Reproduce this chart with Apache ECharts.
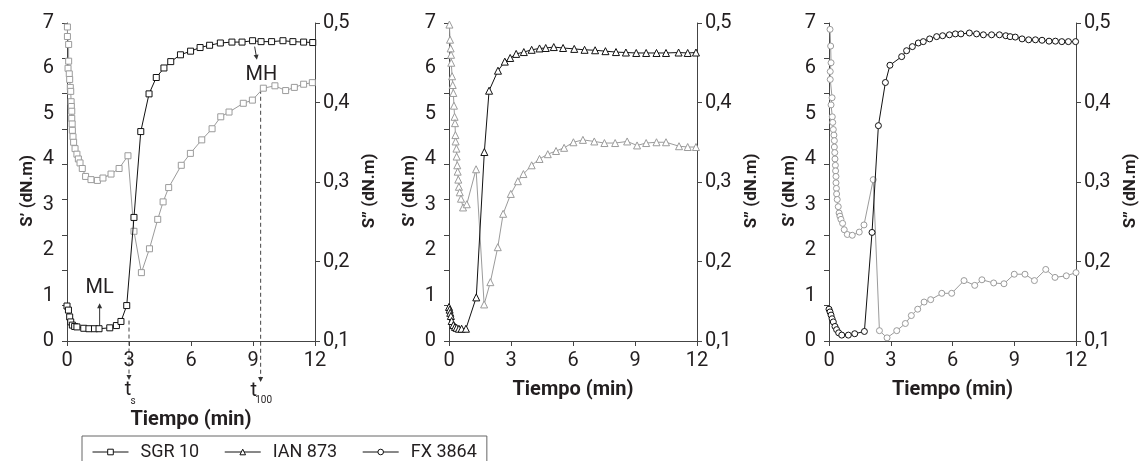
<!DOCTYPE html>
<html>
<head>
<meta charset="utf-8">
<script src="https://cdn.jsdelivr.net/npm/echarts@6/dist/echarts.min.js"></script>
<style>
html,body{margin:0;padding:0;background:#fff;}
#c{width:1145px;height:461px;}
</style>
</head>
<body>
<div id="c"></div>
<script>
// ---------- DATA ----------
const seriesNames = ['SGR 10', 'IAN 873', 'FX 3864'];
const xTicks = [0, 3, 6, 9, 12];
const leftTicks = [0, 1, 2, 3, 4, 5, 6, 7];
const rightTicks = [0.1, 0.2, 0.3, 0.4, 0.5];

// Panel 1 : SGR 10
const sgrSpT = [0, 0.07, 0.13, 0.18, 0.26, 0.37, 0.48, 0.81, 1.06, 1.33, 1.55, 2.07, 2.39, 2.61, 2.89, 3.24, 3.57, 3.97, 4.32, 4.69, 5.02, 5.49, 5.98, 6.44, 6.9, 7.42, 7.98, 8.47, 8.98, 9.39, 9.9, 10.45, 10.93, 11.45, 11.89];
const sgrSp  = [0.77, 0.68, 0.53, 0.42, 0.35, 0.32, 0.31, 0.28, 0.27, 0.27, 0.27, 0.29, 0.34, 0.43, 0.78, 2.72, 4.61, 5.44, 5.8, 6.01, 6.15, 6.3, 6.38, 6.46, 6.51, 6.56, 6.58, 6.58, 6.61, 6.59, 6.59, 6.61, 6.59, 6.58, 6.57];
const sgrSppT = [0.02, 0.02, 0.08, 0.08, 0.05, 0.11, 0.13, 0.16, 0.18, 0.2, 0.21, 0.23, 0.23, 0.25, 0.26, 0.29, 0.32, 0.39, 0.48, 0.55, 0.63, 0.74, 0.9, 1.16, 1.47, 1.74, 2.13, 2.52, 2.95, 3.24, 3.6, 3.99, 4.39, 4.65, 4.92, 5.53, 5.97, 6.52, 7.02, 7.44, 7.84, 8.53, 8.97, 9.5, 10.06, 10.58, 11.0, 11.45, 11.87];
const sgrSpp  = [0.495, 0.483, 0.473, 0.452, 0.443, 0.436, 0.429, 0.419, 0.414, 0.401, 0.395, 0.389, 0.380, 0.373, 0.365, 0.357, 0.350, 0.342, 0.335, 0.329, 0.324, 0.317, 0.307, 0.303, 0.302, 0.305, 0.310, 0.317, 0.333, 0.238, 0.186, 0.216, 0.253, 0.275, 0.293, 0.321, 0.336, 0.353, 0.367, 0.382, 0.388, 0.399, 0.403, 0.418, 0.421, 0.415, 0.419, 0.423, 0.425];

// Panel 2 : IAN 873
const ianSpT = [0, 0.03, 0.06, 0.09, 0.13, 0.21, 0.29, 0.37, 0.48, 0.61, 0.82, 1.32, 1.71, 1.94, 2.37, 2.7, 2.96, 3.25, 3.62, 4.0, 4.38, 4.68, 5.07, 5.52, 6.06, 6.56, 7.07, 7.57, 8.08, 8.56, 9.06, 9.54, 10.04, 10.5, 11.11, 11.55, 11.95];
const ianSp  = [0.75, 0.69, 0.62, 0.55, 0.44, 0.35, 0.31, 0.29, 0.27, 0.27, 0.27, 0.96, 4.16, 5.51, 5.95, 6.15, 6.23, 6.32, 6.36, 6.41, 6.44, 6.45, 6.47, 6.45, 6.43, 6.41, 6.4, 6.38, 6.36, 6.35, 6.34, 6.34, 6.34, 6.34, 6.35, 6.34, 6.35];
const ianSppT = [0.02, 0.05, 0.08, 0.1, 0.11, 0.15, 0.18, 0.21, 0.24, 0.27, 0.29, 0.31, 0.32, 0.36, 0.37, 0.4, 0.42, 0.45, 0.48, 0.52, 0.58, 0.68, 0.86, 1.31, 1.7, 2.0, 2.36, 2.62, 2.99, 3.33, 3.6, 4.0, 4.38, 4.78, 5.18, 5.57, 6.02, 6.48, 7.03, 7.52, 8.04, 8.62, 9.1, 9.54, 10.04, 10.5, 11.13, 11.55, 11.95];
const ianSpp  = [0.498, 0.479, 0.468, 0.46, 0.45, 0.433, 0.422, 0.412, 0.396, 0.382, 0.374, 0.359, 0.351, 0.342, 0.332, 0.321, 0.313, 0.303, 0.294, 0.287, 0.279, 0.268, 0.272, 0.316, 0.146, 0.174, 0.218, 0.26, 0.285, 0.301, 0.31, 0.321, 0.329, 0.335, 0.339, 0.343, 0.35, 0.353, 0.351, 0.349, 0.349, 0.351, 0.346, 0.349, 0.35, 0.35, 0.345, 0.344, 0.344];

// Panel 3 : FX 3864
const fxSpT = [0, 0.05, 0.1, 0.15, 0.21, 0.29, 0.37, 0.47, 0.62, 0.94, 1.25, 1.72, 2.09, 2.4, 2.74, 2.96, 3.53, 3.77, 4.05, 4.34, 4.58, 4.89, 5.23, 5.52, 5.85, 6.14, 6.41, 6.82, 7.17, 7.5, 7.9, 8.28, 8.59, 8.8, 9.05, 9.38, 9.7, 10.03, 10.35, 10.69, 11.0, 11.31, 11.63, 11.98];
const fxSp  = [0.70, 0.64, 0.57, 0.49, 0.42, 0.32, 0.25, 0.18, 0.13, 0.13, 0.16, 0.21, 2.39, 4.74, 5.69, 6.07, 6.26, 6.39, 6.48, 6.56, 6.59, 6.65, 6.7, 6.72, 6.74, 6.76, 6.76, 6.78, 6.76, 6.74, 6.74, 6.74, 6.72, 6.7, 6.69, 6.65, 6.63, 6.63, 6.62, 6.6, 6.6, 6.59, 6.59, 6.59];
const fxSppT = [0.05, 0.08, 0.1, 0.06, 0.06, 0.15, 0.1, 0.16, 0.18, 0.21, 0.24, 0.26, 0.26, 0.28, 0.29, 0.31, 0.32, 0.34, 0.34, 0.36, 0.37, 0.4, 0.45, 0.49, 0.53, 0.58, 0.66, 0.74, 0.89, 1.13, 1.47, 1.7, 2.15, 2.45, 2.82, 3.29, 3.71, 4.0, 4.31, 4.62, 4.94, 5.48, 5.96, 6.56, 7.08, 7.43, 8.0, 8.5, 9.0, 9.52, 9.98, 10.53, 10.98, 11.53, 12.0];
const fxSpp  = [0.492, 0.471, 0.45, 0.439, 0.429, 0.406, 0.397, 0.382, 0.375, 0.366, 0.359, 0.352, 0.344, 0.337, 0.329, 0.321, 0.314, 0.307, 0.299, 0.292, 0.285, 0.278, 0.269, 0.261, 0.257, 0.253, 0.248, 0.24, 0.234, 0.233, 0.237, 0.246, 0.303, 0.113, 0.104, 0.113, 0.122, 0.132, 0.14, 0.149, 0.152, 0.16, 0.16, 0.176, 0.17, 0.177, 0.173, 0.172, 0.184, 0.184, 0.176, 0.19, 0.18, 0.182, 0.186];

// Annotations (panel 1), in data units
const tsTime = 3.0, tsTopSp = 0.45;
const t100Time = 9.37, t100TopSpp = 0.416;
const mlTime = 1.58, mlFromSp = 0.31, mlToSp = 0.83, mlLabelSp = 1.16;
const mhFrom = [9.08, 6.48], mhTo = [9.19, 6.19], mhLabel = [9.41, 5.86];

// ---------- CHART ----------
const FONT = "Roboto, 'Liberation Sans', sans-serif";
const TXT = '#231f20';
const AX = '#444';
const BLACK = '#111';
const GRAY = '#9b9b9b';

const grids = [
  {left: 67, top: 23, width: 248, height: 318},
  {left: 449, top: 23, width: 248, height: 318},
  {left: 829, top: 23, width: 247, height: 318}
];
const xNameGap = [69, 39, 39];
const symbols = ['rect', 'triangle', 'circle'];
const symSize = [6, 7, 6];
const spT = [sgrSpT, ianSpT, fxSpT], sp = [sgrSp, ianSp, fxSp];
const sppT = [sgrSppT, ianSppT, fxSppT], spp = [sgrSpp, ianSpp, fxSpp];

function pairs(ts, vs) { return ts.map((t, i) => [t, vs[i]]); }

const xAxis = [], yAxis = [], series = [];
grids.forEach((g, p) => {
  xAxis.push({
    type: 'value', gridIndex: p, min: xTicks[0], max: xTicks[xTicks.length - 1], interval: 3,
    name: 'Tiempo (min)', nameLocation: 'middle', nameGap: xNameGap[p],
    nameTextStyle: {fontFamily: FONT, fontWeight: 'bold', fontSize: 20, color: TXT},
    axisLine: {show: true, lineStyle: {color: AX, width: 1}},
    axisTick: {show: true, length: 5, lineStyle: {color: AX}},
    axisLabel: {fontFamily: FONT, fontSize: 20, color: TXT, margin: 10},
    splitLine: {show: false}
  });
  yAxis.push({
    type: 'value', gridIndex: p, position: 'left', min: leftTicks[0], max: leftTicks[leftTicks.length - 1], interval: 1,
    name: 'S\u2019 (dN.m)', nameLocation: 'middle', nameRotate: 90, nameGap: 31,
    nameTextStyle: {fontFamily: FONT, fontWeight: 'bold', fontSize: 17, color: TXT, padding: [0, 18, 0, 0]},
    axisLine: {show: true, lineStyle: {color: AX, width: 1}},
    axisTick: {show: false},
    axisLabel: {fontFamily: FONT, fontSize: 20, color: TXT, margin: 13},
    splitLine: {show: false}
  });
  yAxis.push({
    type: 'value', gridIndex: p, position: 'left', min: 0, max: 9, interval: 1,
    axisLine: {show: false}, axisLabel: {show: false}, splitLine: {show: false},
    axisTick: {show: true, length: 5, lineStyle: {color: AX}}
  });
  yAxis.push({
    type: 'value', gridIndex: p, position: 'right', min: rightTicks[0], max: rightTicks[rightTicks.length - 1], interval: 0.1,
    name: 'S\u201D (dN.m)', nameLocation: 'middle', nameRotate: 90, nameGap: 46,
    nameTextStyle: {fontFamily: FONT, fontWeight: 'bold', fontSize: 17, color: TXT, padding: [0, 18, 0, 0]},
    axisLine: {show: true, lineStyle: {color: AX, width: 1}},
    axisTick: {show: true, length: 5, lineStyle: {color: AX}},
    axisLabel: {fontFamily: FONT, fontSize: 20, color: TXT, margin: 8,
      formatter: v => v.toFixed(1).replace('.', ',')},
    splitLine: {show: false}
  });
  series.push({
    name: seriesNames[p] + ' S\u201D', type: 'line', xAxisIndex: p, yAxisIndex: 3 * p + 2,
    data: pairs(sppT[p], spp[p]), symbol: symbols[p], symbolSize: symSize[p], clip: false,
    lineStyle: {color: GRAY, width: 1}, itemStyle: {color: '#fff', borderColor: GRAY, borderWidth: 1},
    emphasis: {disabled: true}, z: 2
  });
  series.push({
    name: seriesNames[p], type: 'line', xAxisIndex: p, yAxisIndex: 3 * p,
    data: pairs(spT[p], sp[p]), symbol: symbols[p], symbolSize: symSize[p], clip: false,
    lineStyle: {color: BLACK, width: 1}, itemStyle: {color: '#fff', borderColor: BLACK, borderWidth: 1},
    emphasis: {disabled: true}, z: 3
  });
});

const chart = echarts.init(document.getElementById('c'), null, {renderer: 'canvas'});
chart.setOption({
  animation: false,
  backgroundColor: '#fff',
  grid: grids,
  xAxis: xAxis,
  yAxis: yAxis,
  series: series,
  legend: {
    data: seriesNames, left: 82, top: 436, orient: 'horizontal',
    itemWidth: 36, itemHeight: 7, itemGap: 25,
    borderColor: '#666', borderWidth: 1, padding: [6, 10, 14, 10],
    itemStyle: {color: '#fff', borderColor: BLACK, borderWidth: 1},
    lineStyle: {color: BLACK, width: 1},
    textStyle: {fontFamily: FONT, fontSize: 18, color: TXT, padding: [0, 0, 0, 7], lineHeight: 20},
    selectedMode: false
  }
});

// ---------- ANNOTATIONS (from data values via the axes) ----------
function px(t, v, yi) { return chart.convertToPixel({xAxisIndex: 0, yAxisIndex: yi}, [t, v]); }
function head(tip, ang) {
  const L = 5, W = 2.5;
  const bx = tip[0] - L * Math.cos(ang), by = tip[1] - L * Math.sin(ang);
  const nx = -Math.sin(ang) * W, ny = Math.cos(ang) * W;
  return {type: 'polygon', shape: {points: [tip, [bx + nx, by + ny], [bx - nx, by - ny]]}, style: {fill: '#333'}, silent: true};
}
const g = [];
const axisBottom = px(0, 0, 0)[1];
// t_s
const tsTop = px(tsTime, tsTopSp, 0);
const tsTip = [tsTop[0], axisBottom + 39];
g.push({type: 'line', shape: {x1: tsTop[0], y1: tsTop[1], x2: tsTip[0], y2: tsTip[1] - 3}, style: {stroke: '#444', lineWidth: 1, lineDash: [4, 3]}, silent: true});
g.push(head(tsTip, Math.PI / 2));
g.push({type: 'text', x: tsTop[0] - 1, y: axisBottom + 49, style: {text: 't', font: '20px ' + FONT, fill: TXT, align: 'center', verticalAlign: 'middle'}});
g.push({type: 'text', x: tsTop[0] + 4, y: axisBottom + 60, style: {text: 's', font: '10px ' + FONT, fill: TXT, align: 'center', verticalAlign: 'middle'}});
// t_100
const t1Top = px(t100Time, t100TopSpp, 2);
const t1Tip = [t1Top[0], axisBottom + 41];
g.push({type: 'line', shape: {x1: t1Top[0], y1: t1Top[1], x2: t1Tip[0], y2: t1Tip[1] - 3}, style: {stroke: '#444', lineWidth: 1, lineDash: [4, 3]}, silent: true});
g.push(head(t1Tip, Math.PI / 2));
g.push({type: 'text', x: t1Top[0] - 7, y: axisBottom + 50, style: {text: 't', font: '20px ' + FONT, fill: TXT, align: 'center', verticalAlign: 'middle'}});
g.push({type: 'text', x: t1Top[0] + 3, y: axisBottom + 59, style: {text: '100', font: '10px ' + FONT, fill: TXT, align: 'center', verticalAlign: 'middle'}});
// ML
const mlA = px(mlTime, mlFromSp, 0), mlB = px(mlTime, mlToSp, 0), mlL = px(mlTime, mlLabelSp, 0);
g.push({type: 'line', shape: {x1: mlA[0], y1: mlA[1], x2: mlB[0], y2: mlB[1] + 3}, style: {stroke: '#333', lineWidth: 1}, silent: true});
g.push(head(mlB, -Math.PI / 2));
g.push({type: 'text', x: mlL[0], y: mlL[1], style: {text: 'ML', font: '20px ' + FONT, fill: TXT, align: 'center', verticalAlign: 'middle'}});
// MH
const mhA = px(mhFrom[0], mhFrom[1], 0), mhB = px(mhTo[0], mhTo[1], 0), mhL = px(mhLabel[0], mhLabel[1], 0);
const mhAng = Math.atan2(mhB[1] - mhA[1], mhB[0] - mhA[0]);
g.push({type: 'line', shape: {x1: mhA[0], y1: mhA[1], x2: mhB[0] - 3 * Math.cos(mhAng), y2: mhB[1] - 3 * Math.sin(mhAng)}, style: {stroke: '#333', lineWidth: 1}, silent: true});
g.push(head(mhB, mhAng));
g.push({type: 'text', x: mhL[0], y: mhL[1], style: {text: 'MH', font: '20px ' + FONT, fill: TXT, align: 'center', verticalAlign: 'middle'}});
chart.setOption({graphic: g});
</script>
</body>
</html>
